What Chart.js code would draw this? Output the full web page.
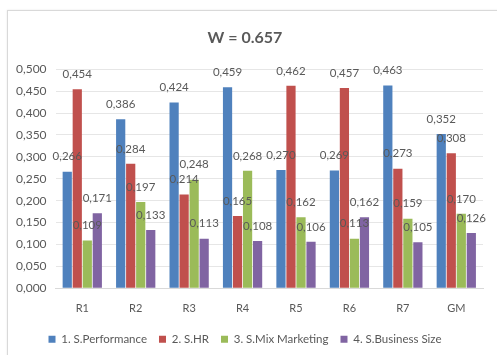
<!DOCTYPE html>
<html><head><meta charset="utf-8">
<script src="https://cdn.jsdelivr.net/npm/chart.js@4"></script>
<style>
html,body{margin:0;padding:0;background:#fff;}
#frame{position:absolute;left:7px;top:10px;width:495px;height:350px;border:1px solid #d9d9d9;box-sizing:border-box;box-shadow:0 0 2px #e8e8e8;}
#wrap{position:absolute;left:0;top:0;width:497px;height:355px;}
</style></head>
<body>
<div id="frame"></div>
<div id="wrap"><canvas id="c" width="497" height="355"></canvas></div>
<script>
const categories = ['R1','R2','R3','R4','R5','R6','R7','GM'];
const seriesNames = ['1. S.Performance','2. S.HR','3. S.Mix Marketing','4. S.Business Size'];
const performance = [0.266,0.386,0.424,0.459,0.270,0.269,0.463,0.352];
const hr = [0.454,0.284,0.214,0.165,0.462,0.457,0.273,0.308];
const mixMarketing = [0.109,0.197,0.248,0.268,0.162,0.113,0.159,0.170];
const businessSize = [0.171,0.133,0.113,0.108,0.106,0.162,0.105,0.126];
const colors = ['#4F81BD','#C0504D','#9BBB59','#8064A2'];
const fmt = v => v.toFixed(3).replace('.', ',');
const FONT = 'Lato, "Open Sans", sans-serif';

const labelPlugin = {
  id:'vlabels',
  afterDatasetsDraw(chart){
    const ctx = chart.ctx;
    ctx.save();
    ctx.font = '11.5px ' + FONT;
    ctx.fillStyle = '#595959';
    ctx.textAlign = 'center';
    ctx.textBaseline = 'middle';
    chart.data.datasets.forEach((ds,i)=>{
      const meta = chart.getDatasetMeta(i);
      meta.data.forEach((bar,j)=>{
        ctx.fillText(fmt(ds.data[j]), bar.x, bar.y - 15);
      });
    });
    ctx.restore();
  }
};

new Chart(document.getElementById('c'), {
  type:'bar',
  data:{
    labels: categories,
    datasets:[performance,hr,mixMarketing,businessSize].map((d,i)=>({
      label: seriesNames[i], data: d, backgroundColor: colors[i],
      categoryPercentage: 0.75, barPercentage: 0.92
    }))
  },
  options:{
    responsive:false, animation:false,
    layout:{padding:{left:7,right:14,top:28,bottom:0}},
    plugins:{
      title:{display:true,text:'W = 0.657',color:'#595959',
        font:{family:FONT,size:16,weight:'bold'},padding:{top:0,bottom:22}},
      legend:{position:'bottom',labels:{boxWidth:7,boxHeight:7,color:'#595959',
        font:{family:FONT,size:11.5},padding:12}},
      tooltip:{enabled:false}
    },
    scales:{
      x:{grid:{display:false},border:{color:'#d9d9d9'},
        ticks:{color:'#595959',font:{family:FONT,size:11},padding:6}},
      y:{min:0,max:0.5,
        ticks:{stepSize:0.05,color:'#595959',callback:v=>fmt(v),
          font:{family:FONT,size:12},padding:9},
        grid:{color:'#e6e6e6',drawTicks:false},border:{display:false}}
    }
  },
  plugins:[labelPlugin]
});
</script>
</body></html>
